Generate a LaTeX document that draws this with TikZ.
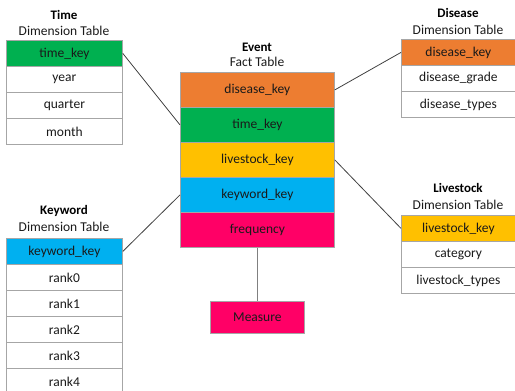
\documentclass[tikz,border=0pt]{standalone}
\usepackage{fontspec}
\setmainfont{Carlito}
\definecolor{cOrange}{HTML}{ED7D31}
\definecolor{cGreen}{HTML}{00B050}
\definecolor{cYellow}{HTML}{FFC000}
\definecolor{cBlue}{HTML}{00B0F0}
\definecolor{cPink}{HTML}{FF0066}
\definecolor{cBorder}{HTML}{A6A6A6}
\definecolor{cText}{HTML}{1A1A1A}
\definecolor{cLine}{HTML}{404040}
\begin{document}
\begin{tikzpicture}[x=1pt,y=-1pt,
  cell/.style={draw=cBorder, line width=0.8pt, anchor=north west, inner sep=0pt,
    minimum height=26pt, minimum width=116pt, font=\fontsize{13.5}{15}\selectfont, text=cText},
  fcell/.style={cell, minimum height=35pt, minimum width=154pt},
  ttl/.style={font=\fontsize{13}{15}\selectfont\bfseries, text=black, inner sep=0pt},
  sub/.style={font=\fontsize{13.5}{15}\selectfont, text=cText, inner sep=0pt},
  conn/.style={draw=cLine, line width=0.8pt}]
\useasboundingbox (0,0) rectangle (515,391);
% Time
\node[ttl] (tT) at (64,15) {Time};
\node[sub] (tS) at (64,31) {Dimension Table};
\node[cell, fill=cGreen] (tk) at (6,40) {time\_key};
\node[cell] (ty) at (6,66) {year};
\node[cell] (tq) at (6,92) {quarter};
\node[cell] (tm) at (6,118) {month};
% Fact
\node[ttl] (fT) at (257,47) {Event};
\node[sub] (fS) at (257,62) {Fact Table};
\node[fcell, fill=cOrange] (fd) at (180,72) {disease\_key};
\node[fcell, fill=cGreen] (ft) at (180,107) {time\_key};
\node[fcell, fill=cYellow] (fl) at (180,142) {livestock\_key};
\node[fcell, fill=cBlue] (fk) at (180,177) {keyword\_key};
\node[fcell, fill=cPink] (ff) at (180,212) {frequency};
% Disease
\node[ttl] (dT) at (458,13) {Disease};
\node[sub] (dS) at (458,30) {Dimension Table};
\node[cell, minimum width=114pt, fill=cOrange] (dk) at (401,39) {disease\_key};
\node[cell, minimum width=114pt] (dg) at (401,65) {disease\_grade};
\node[cell, minimum width=114pt] (dt) at (401,91) {disease\_types};
% Livestock
\node[ttl] (lT) at (458,188) {Livestock};
\node[sub] (lS) at (458,205) {Dimension Table};
\node[cell, minimum width=114pt, fill=cYellow] (lk) at (401,215) {livestock\_key};
\node[cell, minimum width=114pt] (lc) at (401,241) {category};
\node[cell, minimum width=114pt] (lt) at (401,267) {livestock\_types};
% Keyword
\node[ttl] (kT) at (64,211) {Keyword};
\node[sub] (kS) at (64,227) {Dimension Table};
\node[cell, fill=cBlue] (kk) at (6,238) {keyword\_key};
\node[cell] (k0) at (6,264) {rank0};
\node[cell] (k1) at (6,290) {rank1};
\node[cell] (k2) at (6,316) {rank2};
\node[cell] (k3) at (6,342) {rank3};
\node[cell] (k4) at (6,368) {rank4};
% Measure
\node[cell, fill=cPink, minimum width=94pt, minimum height=32pt] (ms) at (210,301) {Measure};
% connectors
\draw[conn] (tk.east) -- (ft.west);
\draw[conn] (fd.east) -- (dk.west);
\draw[conn] (fl.east) -- (lk.west);
\draw[conn] (kk.east) -- (fk.west);
\draw[draw=gray, line width=1.2pt] (ff.south) -- (ms.north);
\end{tikzpicture}
\end{document}
